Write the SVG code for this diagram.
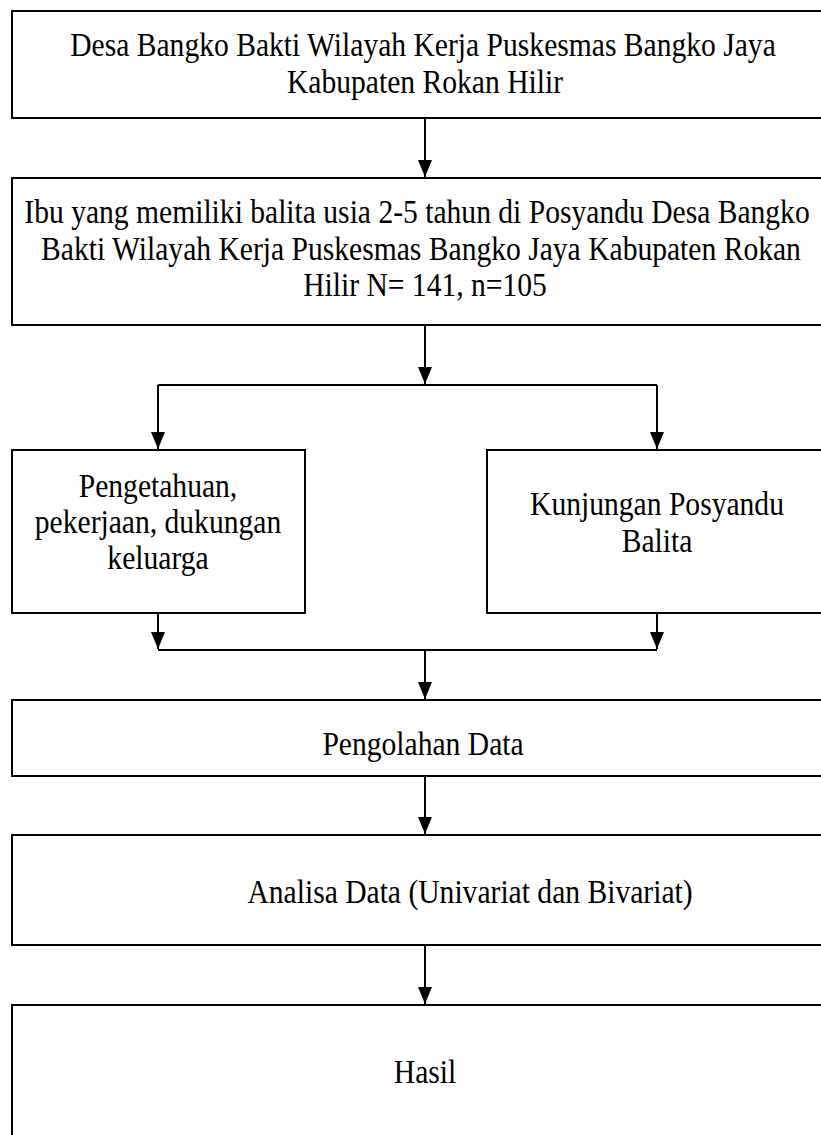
<svg xmlns="http://www.w3.org/2000/svg" width="821" height="1135" viewBox="0 0 821 1135">
<style>
.box{fill:#fff;stroke:#000;stroke-width:2}
.t{font-family:"Liberation Serif","Times New Roman",serif;font-size:29.6px;fill:#000;text-anchor:middle}
.c{fill:none;stroke:#000;stroke-width:2}
</style>
<defs>
<marker id="ah" markerUnits="userSpaceOnUse" markerWidth="18" markerHeight="14" refX="17" refY="7" orient="auto" viewBox="0 0 18 14">
<path d="M0,0 L17,7 L0,14 Z" fill="#000"/>
</marker>
</defs>
<rect width="821" height="1135" fill="#fff"/>
<g id="n1"><rect class="box" x="12" y="11" width="830" height="107"/>
<text class="t" transform="translate(423,56) scale(1,1.15)">Desa Bangko Bakti Wilayah Kerja Puskesmas Bangko Jaya</text>
<text class="t" transform="translate(425,93) scale(1,1.15)">Kabupaten Rokan Hilir</text></g>
<g id="n2"><rect class="box" x="12" y="178" width="830" height="147"/>
<text class="t" transform="translate(417,223) scale(1,1.15)">Ibu yang memiliki balita usia 2-5 tahun di Posyandu Desa Bangko</text>
<text class="t" transform="translate(421,260) scale(1,1.15)">Bakti Wilayah Kerja Puskesmas Bangko Jaya Kabupaten Rokan</text>
<text class="t" transform="translate(425,296) scale(1,1.15)">Hilir N= 141, n=105</text></g>
<g id="n3"><rect class="box" x="12" y="450" width="293" height="163"/>
<text class="t" transform="translate(158,497) scale(1,1.15)">Pengetahuan,</text>
<text class="t" transform="translate(158,533) scale(1,1.15)">pekerjaan, dukungan</text>
<text class="t" transform="translate(158,569) scale(1,1.15)">keluarga</text></g>
<g id="n4"><rect class="box" x="487" y="450" width="360" height="163"/>
<text class="t" transform="translate(657,515) scale(1,1.15)">Kunjungan Posyandu</text>
<text class="t" transform="translate(657,552) scale(1,1.15)">Balita</text></g>
<g id="n5"><rect class="box" x="12" y="700" width="830" height="76"/>
<text class="t" transform="translate(423,755) scale(1,1.15)">Pengolahan Data</text></g>
<g id="n6"><rect class="box" x="12" y="835" width="830" height="110"/>
<text class="t" transform="translate(470,903) scale(1,1.15)">Analisa Data (Univariat dan Bivariat)</text></g>
<g id="n7"><rect class="box" x="12" y="1005" width="830" height="160"/>
<text class="t" transform="translate(425,1083) scale(1,1.15)">Hasil</text></g>
<g id="connectors">
<path class="c" d="M425,118 V177" marker-end="url(#ah)"/>
<path class="c" d="M425,325 V384" marker-end="url(#ah)"/>
<path class="c" d="M158,385 H657"/>
<path class="c" d="M158,385 V449" marker-end="url(#ah)"/>
<path class="c" d="M657,385 V449" marker-end="url(#ah)"/>
<path class="c" d="M158,613 V649" marker-end="url(#ah)"/>
<path class="c" d="M657,613 V649" marker-end="url(#ah)"/>
<path class="c" d="M158,650 H657"/>
<path class="c" d="M425,650 V699" marker-end="url(#ah)"/>
<path class="c" d="M425,776 V834" marker-end="url(#ah)"/>
<path class="c" d="M425,945 V1004" marker-end="url(#ah)"/>
</g>
</svg>
